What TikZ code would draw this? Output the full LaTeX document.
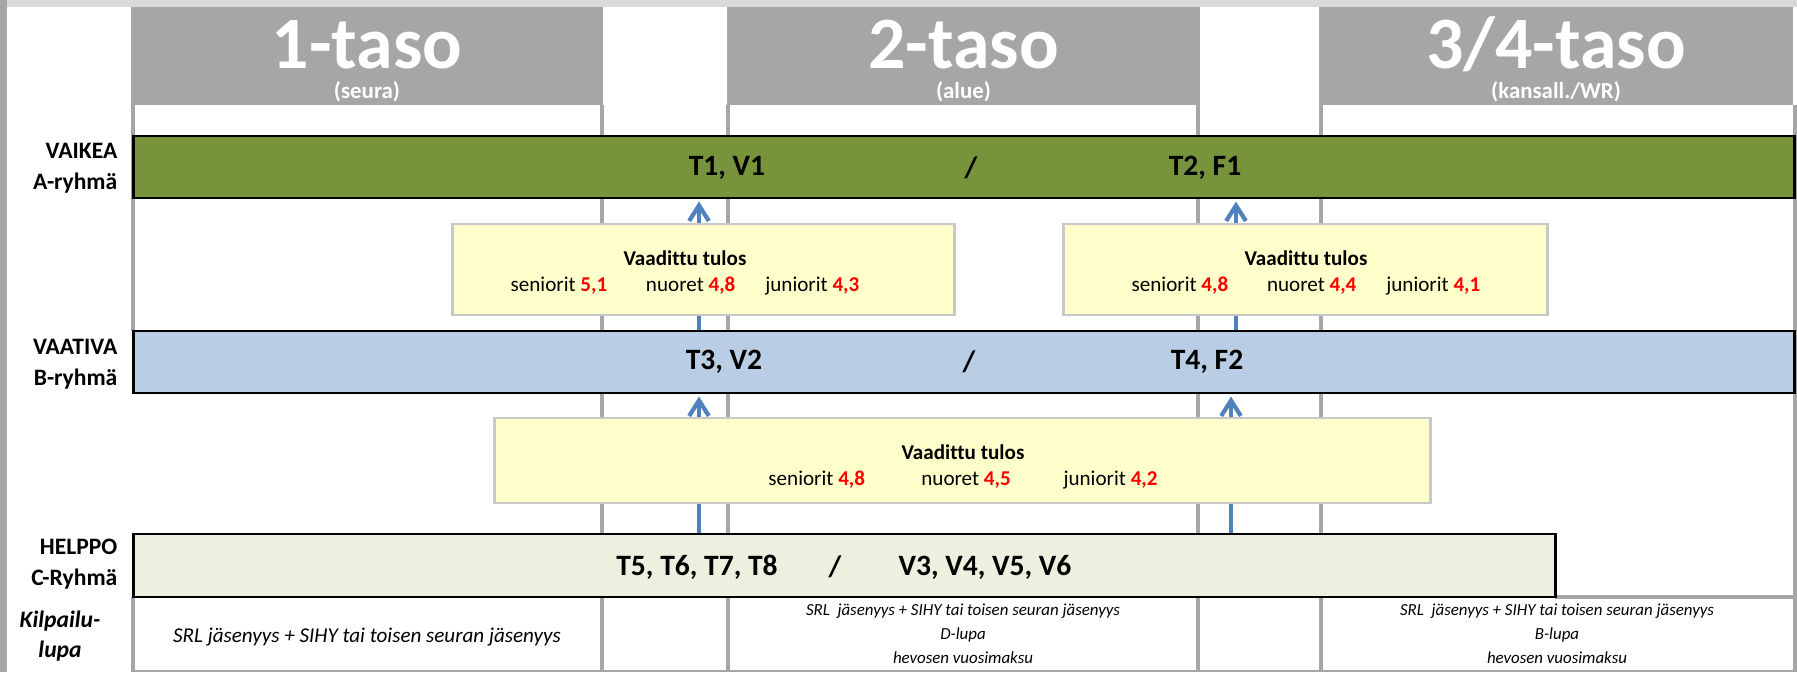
\documentclass[tikz,border=0pt]{standalone}
\usepackage{fontspec}
\setmainfont{Carlito}[Ligatures={NoCommon}]
\usetikzlibrary{arrows.meta}

\definecolor{kehys}{HTML}{A6A6A6}
\definecolor{ylarivi}{HTML}{D9D9D9}
\definecolor{vaikea}{HTML}{77933C}
\definecolor{vaativa}{HTML}{B9CDE5}
\definecolor{helppo}{HTML}{EBF1DE}
\definecolor{tulos}{HTML}{FFFFCC}
\definecolor{tulosreuna}{HTML}{C8C8C8}
\definecolor{nuoli}{HTML}{4F81BD}
\newcommand{\tulosarvo}[1]{\textcolor{red}{\bfseries #1}}

\begin{document}
\begin{tikzpicture}[x=0.01cm, y=-0.01cm,
    otsikko/.style={fill=kehys, inner sep=0pt, minimum height=0.98cm},
    ryhma/.style={draw=black, line width=0.8pt, inner sep=0pt, minimum height=0.62cm},
    tulosbox/.style={fill=tulos, draw=tulosreuna, line width=0.8pt, inner sep=0pt},
    sarake/.style={draw=kehys, line width=1.2pt},
    pil/.style={draw=nuoli, line width=1.2pt, -{Straight Barb[length=4.4pt,width=5.6pt]}, shorten >=0.6pt},
    isoteksti/.style={text=white, inner sep=0pt, font=\bfseries\fontsize{21}{21}\selectfont},
    pieniteksti/.style={text=white, inner sep=0pt, font=\bfseries\fontsize{6.5}{7}\selectfont},
    rivinimi/.style={align=right, anchor=east, inner sep=0pt, font=\bfseries\fontsize{6.7}{8.8}\selectfont},
    koodit/.style={inner sep=0pt, font=\bfseries\fontsize{8.4}{10}\selectfont},
    tulosteksti/.style={align=center, inner sep=0pt, font=\fontsize{6}{7.4}\selectfont},
    lupateksti/.style={align=center, inner sep=0pt, font=\itshape\fontsize{4.8}{6.8}\selectfont}]
    \useasboundingbox (0,0) rectangle (1797,672);
    \fill[white] (0,0) rectangle (1797,672);

    % --- reunat ja sarakeviivat ---
    \fill[ylarivi] (0,0) rectangle (1797,7);
    \fill[kehys] (0,0) rectangle (7,672);
    \draw[sarake] (133,105) -- (133,331);
    \draw[sarake] (133,597) -- (133,672);
    \draw[sarake] (602,105) -- (602,672);
    \draw[sarake] (728,105) -- (728,672);
    \draw[sarake] (1198,105) -- (1198,672);
    \draw[sarake] (1321,105) -- (1321,672);
    \draw[sarake] (1795,105) -- (1795,672);
    \draw[sarake] (1555,597) -- (1795,597);
    \draw[draw=kehys, line width=0.6pt] (133,671) -- (1795,671);

    % --- tasot ---
    \node[otsikko, minimum width=4.72cm] (taso1) at (367,56) {};
    \node[otsikko, minimum width=4.73cm] (taso2) at (963.5,56) {};
    \node[otsikko, minimum width=4.74cm] (taso34) at (1556,56) {};
    \node[isoteksti, anchor=base] (t1) at (367,68) {1-taso};
    \node[isoteksti, anchor=base] (t2) at (963.5,68) {2-taso};
    \node[isoteksti, anchor=base] (t34) at (1556,68) {3/4-taso};
    \node[pieniteksti] (seura) at (367,92) {(seura)};
    \node[pieniteksti] (alue) at (963.5,92) {(alue)};
    \node[pieniteksti] (kansall) at (1556,92) {(kansall./WR)};

    % --- ryhmät ---
    \node[ryhma, fill=vaikea, minimum width=16.6cm] (arivi) at (964,167) {};
    \node[ryhma, fill=vaativa, minimum width=16.6cm] (brivi) at (964,362) {};
    \node[ryhma, fill=helppo, minimum width=14.21cm, minimum height=0.63cm] (crivi) at (844.5,565.5) {};

    \node[rivinimi] (animi) at (118,168) {VAIKEA\\A-ryhmä};
    \node[rivinimi] (bnimi) at (118,364) {VAATIVA\\B-ryhmä};
    \node[rivinimi] (cnimi) at (118,564) {HELPPO\\C-Ryhmä};
    \node[align=center, inner sep=0pt, font=\bfseries\itshape\fontsize{6.7}{8.6}\selectfont] (lupa) at (60,636) {Kilpailu-\\lupa};

    \node[koodit] (t1v1) at (727,168) {T1, V1};
    \node[koodit] (aviiva) at (971,168) {/};
    \node[koodit] (t2f1) at (1205,168) {T2, F1};
    \node[koodit] (t3v2) at (724,362) {T3, V2};
    \node[koodit] (bviiva) at (969,362) {/};
    \node[koodit] (t4f2) at (1207,362) {T4, F2};
    \node[koodit] (tkoodit) at (697,567) {T5, T6, T7, T8};
    \node[koodit] (cviiva) at (835,567) {/};
    \node[koodit] (vkoodit) at (985,567) {V3, V4, V5, V6};

    % --- nuolet ---
    \coordinate (n1) at (699,0);
    \coordinate (n2) at (1236,0);
    \coordinate (n4) at (1231,0);
    \draw[pil] (brivi.north -| n1) -- (arivi.south -| n1);
    \draw[pil] (brivi.north -| n2) -- (arivi.south -| n2);
    \draw[pil] (crivi.north -| n1) -- (brivi.south -| n1);
    \draw[pil] (crivi.north -| n4) -- (brivi.south -| n4);

    % --- vaaditut tulokset ---
    \node[tulosbox, minimum width=5.01cm, minimum height=0.91cm] (tulos1) at (703.5,269.5) {};
    \node[tulosbox, minimum width=4.83cm, minimum height=0.91cm] (tulos2) at (1305.5,269.5) {};
    \node[tulosbox, minimum width=9.35cm, minimum height=0.85cm] (tulos3) at (962.5,460.5) {};
    \node[tulosteksti] (tulos1teksti) at (685,273) {\textbf{Vaadittu tulos}\\
        seniorit \tulosarvo{5,1}\hspace{11pt}nuoret \tulosarvo{4,8}\hspace{8.5pt}juniorit \tulosarvo{4,3}};
    \node[tulosteksti] (tulos2teksti) at (1306,273) {\textbf{Vaadittu tulos}\\
        seniorit \tulosarvo{4,8}\hspace{11pt}nuoret \tulosarvo{4,4}\hspace{8.5pt}juniorit \tulosarvo{4,1}};
    \node[tulosteksti] (tulos3teksti) at (963,467) {\textbf{Vaadittu tulos}\\
        seniorit \tulosarvo{4,8}\hspace{16pt}nuoret \tulosarvo{4,5}\hspace{15pt}juniorit \tulosarvo{4,2}};

    % --- kilpailulupa ---
    \node[inner sep=0pt, font=\itshape\fontsize{6}{7}\selectfont] (lupa1) at (367,637) {SRL jäsenyys + SIHY tai toisen seuran jäsenyys};
    \node[lupateksti] (lupa2) at (963,634) {SRL\ \ jäsenyys + SIHY tai toisen seuran jäsenyys\\D-lupa\\hevosen vuosimaksu};
    \node[lupateksti] (lupa34) at (1557,634) {SRL\ \ jäsenyys + SIHY tai toisen seuran jäsenyys\\B-lupa\\hevosen vuosimaksu};
\end{tikzpicture}
\end{document}
